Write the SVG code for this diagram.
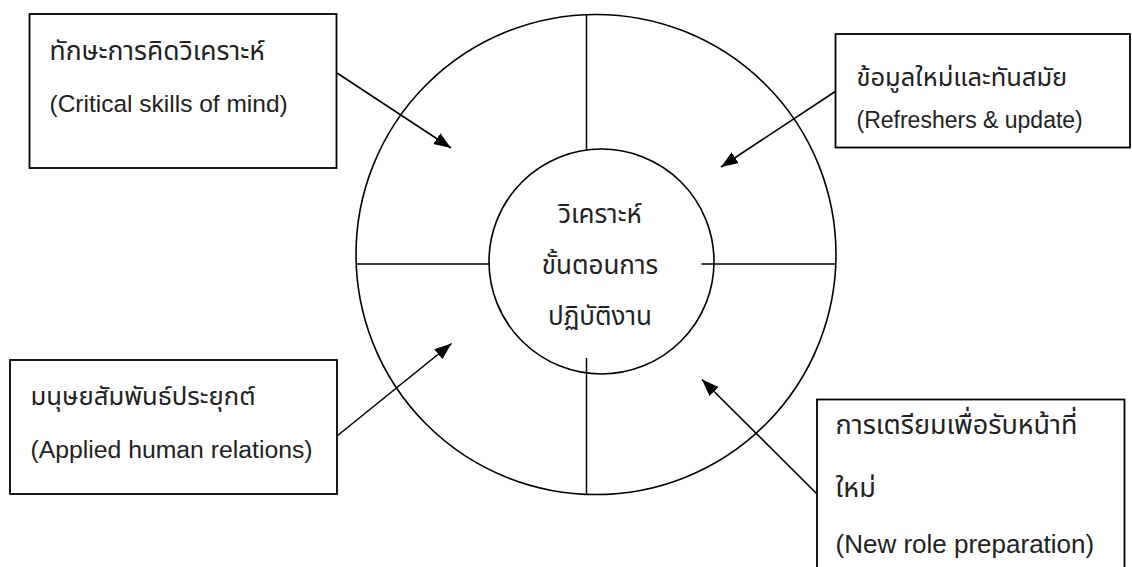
<svg xmlns="http://www.w3.org/2000/svg" width="1132" height="567" viewBox="0 0 1132 567">
  <style>
    .box { fill: #ffffff; stroke: #000000; stroke-width: 1.8; }
    .ring { fill: none; stroke: #000000; stroke-width: 1.6; }
    .div { stroke: #000000; stroke-width: 1.5; fill: none; }
    .conn { stroke: #000000; stroke-width: 1.6; fill: none; marker-end: url(#arrow); }
    .lbl { font-family: "Liberation Sans", "Noto Sans", "Noto Sans Thai", "DejaVu Sans", sans-serif; fill: #222222; }
    .ctr { text-anchor: middle; font-size: 26px; }
    .th1 { font-size: 26.5px; }
    .en1 { font-size: 24.5px; }
    .th2 { font-size: 25.5px; }
    .en2 { font-size: 23px; }
    .th3 { font-size: 25.7px; }
    .en3 { font-size: 24.75px; }
    .th4 { font-size: 27px; }
    .en4 { font-size: 26px; }
  </style>
  <defs>
    <marker id="arrow" markerUnits="userSpaceOnUse" markerWidth="18" markerHeight="14" refX="17" refY="6.5" orient="auto">
      <path d="M0,0 L17,6.5 L0,13 Z" fill="#000000"/>
    </marker>
  </defs>
  <rect width="1132" height="567" fill="#ffffff"/>

  <g id="wheel">
    <circle class="ring" cx="596" cy="254.5" r="240"/>
    <circle class="ring" cx="601.5" cy="261.5" r="112.5"/>
    <line class="div" x1="586.5" y1="14.5" x2="586.5" y2="150"/>
    <line class="div" x1="586.5" y1="358" x2="586.5" y2="494"/>
    <line class="div" x1="356" y1="264" x2="490" y2="264"/>
    <line class="div" x1="701.5" y1="264" x2="836" y2="264"/>
  </g>

  <g id="center">
    <text class="lbl ctr" x="600" y="223">วิเคราะห์</text>
    <text class="lbl ctr" x="600" y="274">ขั้นตอนการ</text>
    <text class="lbl ctr" x="600" y="325">ปฏิบัติงาน</text>
  </g>

  <g id="connectors">
    <line class="conn" x1="337" y1="73" x2="451" y2="148"/>
    <line class="conn" x1="836" y1="91" x2="721" y2="167"/>
    <line class="conn" x1="337" y1="436" x2="451.5" y2="343.5"/>
    <line class="conn" x1="817" y1="494" x2="702" y2="379.5"/>
  </g>

  <g id="critical">
    <rect class="box" x="29.5" y="14" width="307" height="154"/>
    <text class="lbl th1" x="49.5" y="60">ทักษะการคิดวิเคราะห์</text>
    <text class="lbl en1" x="49.5" y="112">(Critical skills of mind)</text>
  </g>

  <g id="refreshers">
    <rect class="box" x="835.5" y="34" width="294.5" height="113.5"/>
    <text class="lbl th2" x="856.5" y="86">ข้อมูลใหม่และทันสมัย</text>
    <text class="lbl en2" x="856.5" y="128">(Refreshers &amp; update)</text>
  </g>

  <g id="human">
    <rect class="box" x="10" y="360" width="327" height="134"/>
    <text class="lbl th3" x="30.5" y="405">มนุษยสัมพันธ์ประยุกต์</text>
    <text class="lbl en3" x="30.5" y="458">(Applied human relations)</text>
  </g>

  <g id="newrole">
    <rect class="box" x="817" y="399.5" width="307.5" height="180"/>
    <text class="lbl th4" x="835.5" y="434">การเตรียมเพื่อรับหน้าที่</text>
    <text class="lbl th4" x="835.5" y="497">ใหม่</text>
    <text class="lbl en4" x="835.5" y="553">(New role preparation)</text>
  </g>
</svg>
